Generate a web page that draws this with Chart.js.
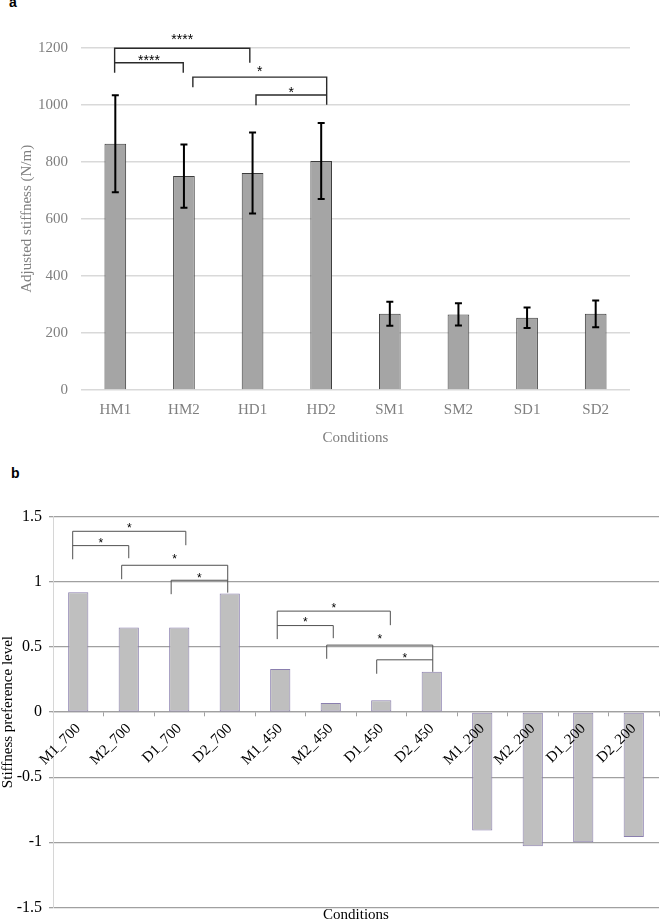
<!DOCTYPE html>
<html><head><meta charset="utf-8">
<script src="https://cdn.jsdelivr.net/npm/chart.js@4.4.0/dist/chart.umd.min.js"></script>
<style>
body{margin:0;background:#fff;width:660px;height:924px;position:relative;overflow:hidden;font-family:"Liberation Sans",Arial,sans-serif}
.panel{position:absolute;font-weight:bold;font-size:14px;line-height:14px;color:#000}
#wa{position:absolute;left:0;top:0;width:660px;height:450px}
#wb{position:absolute;left:0;top:450px;width:660px;height:474px}
</style></head><body>
<div class="panel" style="top:-5px;left:9px">a</div>
<div class="panel" style="top:466px;left:11px">b</div>
<div id="wa"><canvas id="ca" width="660" height="450"></canvas></div>
<div id="wb"><canvas id="cb" width="660" height="474"></canvas></div>
<script>
// ---- Panel a data ----
const categoriesA = ['HM1','HM2','HD1','HD2','SM1','SM2','SD1','SD2'];
const stiffness = [863, 750, 761, 803, 267, 265, 253, 267];
const stiffnessErr = [170, 111, 142, 133, 42, 39, 36, 47];
const yTicksA = [0, 200, 400, 600, 800, 1000, 1200];
// significance brackets: [fromIdx, toIdx, level, leftEnd, rightEnd, labelLevel, label]
const sigA = [
  [-0.01, 1.96, 1198, 1112, 1147, 1238, '****'],
  [-0.01, 0.99, 1147, 1147, 1112, 1165, '****'],
  [1.13, 3.08, 1097, 1061, 1000, 1126, '*'],
  [2.05, 3.08, 1034, 998, 1034, 1053, '*']
];

// ---- Panel b data ----
const categoriesB = ['M1_700','M2_700','D1_700','D2_700','M1_450','M2_450','D1_450','D2_450','M1_200','M2_200','D1_200','D2_200'];
const preference = [0.92, 0.65, 0.65, 0.91, 0.33, 0.07, 0.09, 0.31, -0.91, -1.03, -1.00, -0.96];
const yTicksB = [-1.5, -1, -0.5, 0, 0.5, 1, 1.5];
const sigB = [
  [-0.11, 2.13, 1.388, 1.173, 1.281, 1.436, '*'],
  [-0.11, 1.00, 1.278, 1.278, 1.181, 1.321, '*'],
  [0.86, 2.96, 1.127, 1.020, 0.917, 1.193, '*'],
  [1.84, 2.96, 1.012, 0.905, 1.012, 1.045, '*'],
  [3.94, 6.18, 0.775, 0.560, 0.667, 0.817, '*'],
  [3.94, 5.05, 0.664, 0.664, 0.567, 0.708, '*'],
  [4.92, 7.02, 0.514, 0.409, 0.309, 0.580, '*'],
  [5.91, 7.02, 0.401, 0.294, 0.401, 0.432, '*']
];

const serif = '"Liberation Serif","Times New Roman",serif';

function drawStarText(ctx, text, x, yTarget) {
  const m = ctx.measureText(text);
  const base = yTarget + (m.actualBoundingBoxAscent - m.actualBoundingBoxDescent) / 2;
  ctx.fillText(text, x, base);
}

function bracketPlugin(sig, color, width, font) {
  return {
    id: 'brackets',
    afterDatasetsDraw(chart) {
      const ctx = chart.ctx, xs = chart.scales.x, ys = chart.scales.y;
      ctx.save();
      ctx.strokeStyle = color; ctx.lineWidth = width; ctx.lineJoin = 'miter';
      ctx.fillStyle = '#000'; ctx.font = font; ctx.textAlign = 'center';
      sig.forEach(s => {
        const x1 = xs.getPixelForValue(s[0]), x2 = xs.getPixelForValue(s[1]);
        const y = ys.getPixelForValue(s[2]);
        const yl = ys.getPixelForValue(s[3]), yr = ys.getPixelForValue(s[4]);
        ctx.beginPath();
        ctx.moveTo(x1, yl); ctx.lineTo(x1, y); ctx.lineTo(x2, y); ctx.lineTo(x2, yr);
        ctx.stroke();
        drawStarText(ctx, s[6], (x1 + x2) / 2, ys.getPixelForValue(s[5]));
      });
      ctx.restore();
    }
  };
}

const errorBarPlugin = {
  id: 'errbars',
  afterDatasetsDraw(chart) {
    const ctx = chart.ctx, ys = chart.scales.y;
    const meta = chart.getDatasetMeta(0);
    ctx.save();
    ctx.strokeStyle = '#000'; ctx.lineWidth = 2;
    meta.data.forEach((bar, i) => {
      const x = bar.x;
      const yt = ys.getPixelForValue(stiffness[i] + stiffnessErr[i]);
      const yb = ys.getPixelForValue(stiffness[i] - stiffnessErr[i]);
      ctx.beginPath();
      ctx.moveTo(x, yt); ctx.lineTo(x, yb);
      ctx.moveTo(x - 3.5, yt); ctx.lineTo(x + 3.5, yt);
      ctx.moveTo(x - 3.5, yb); ctx.lineTo(x + 3.5, yb);
      ctx.stroke();
    });
    ctx.restore();
  }
};

new Chart(document.getElementById('ca'), {
  type: 'bar',
  data: {
    labels: categoriesA,
    datasets: [{
      data: stiffness,
      backgroundColor: '#a5a5a5',
      borderColor: '#3c3c3c',
      borderWidth: 1,
      barPercentage: 0.316,
      categoryPercentage: 1
    }]
  },
  options: {
    responsive: false,
    animation: false,
    devicePixelRatio: 1,
    layout: { padding: { top: 47.7, right: 30, left: 0, bottom: 0 } },
    plugins: { legend: { display: false }, tooltip: { enabled: false } },
    scales: {
      x: {
        grid: { display: false },
        border: { display: false },
        ticks: { color: '#7f7f7f', font: { family: serif, size: 15 }, padding: 3 },
        title: { display: true, text: 'Conditions', color: '#7f7f7f', font: { family: serif, size: 15 }, padding: { top: 0, bottom: 3 } },
        afterFit(s) { s.height = 60; }
      },
      y: {
        min: 0, max: 1200,
        afterBuildTicks(s) { s.ticks = yTicksA.map(v => ({ value: v })); },
        grid: { color: '#d9d9d9', lineWidth: 1.5, drawTicks: false },
        border: { display: false },
        ticks: { color: '#7f7f7f', font: { family: serif, size: 15 }, padding: 13, callback: v => String(v) },
        title: { display: true, text: 'Adjusted stiffness (N/m)', color: '#7f7f7f', font: { family: serif, size: 15 }, padding: { top: 18, bottom: 0 } },
        afterFit(s) { s.width = 81; }
      }
    }
  },
  plugins: [errorBarPlugin, bracketPlugin(sigA, '#2a2a2a', 1.4, '14px "Liberation Sans", Arial, sans-serif')]
});

new Chart(document.getElementById('cb'), {
  type: 'bar',
  data: {
    labels: categoriesB,
    datasets: [{
      data: preference,
      backgroundColor: '#bfbfbf',
      borderColor: '#8a7fae',
      borderWidth: 1,
      borderSkipped: false,
      barPercentage: 0.4,
      categoryPercentage: 1
    }]
  },
  options: {
    responsive: false,
    animation: false,
    devicePixelRatio: 1,
    layout: { padding: { top: 66.7, right: 1, left: 0, bottom: 0 } },
    plugins: { legend: { display: false }, tooltip: { enabled: false } },
    scales: {
      x: {
        position: { y: 0 },
        grid: { display: true, drawOnChartArea: false, drawTicks: true, tickLength: 4, color: '#a0a0a0', lineWidth: 1 },
        border: { display: true, color: '#a0a0a0', width: 1.3 },
        ticks: { z: 1, color: '#000', font: { family: serif, size: 15 }, minRotation: 45, maxRotation: 45, autoSkip: false, padding: 4 }
      },
      x2: {
        type: 'category',
        position: 'bottom',
        grid: { display: false },
        border: { display: false },
        ticks: { display: false },
        title: { display: true, text: 'Conditions', color: '#000', font: { family: serif, size: 15, lineHeight: 1 }, padding: { top: 0, bottom: 0 } },
        afterFit(s) { s.height = 15; }
      },
      y: {
        min: -1.5, max: 1.5,
        afterBuildTicks(s) { s.ticks = yTicksB.map(v => ({ value: v })); },
        grid: { color: '#a0a0a0', lineWidth: 1.3, tickLength: 4 },
        border: { display: true, color: '#d6d6d6', width: 1 },
        ticks: { color: '#000', font: { family: serif, size: 16 }, padding: 7, callback: v => String(v) },
        title: { display: true, text: 'Stiffness preference level', color: '#000', font: { family: serif, size: 15, lineHeight: 1 }, padding: { top: 1, bottom: 0 } },
        afterFit(s) { s.width = 53; }
      }
    }
  },
  plugins: [bracketPlugin(sigB, '#505050', 1, '12px "Liberation Sans", Arial, sans-serif')]
});
</script>
</body></html>
